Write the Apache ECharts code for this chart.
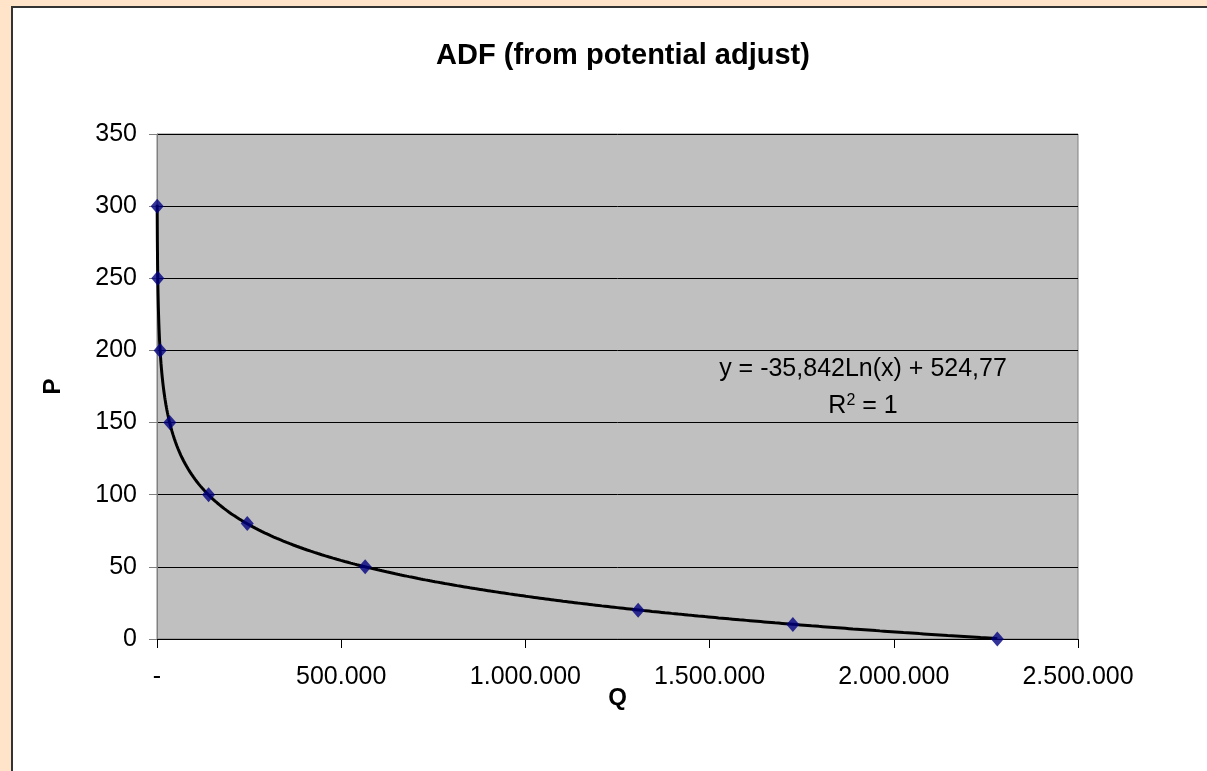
<!DOCTYPE html>
<html>
<head>
<meta charset="utf-8">
<script src="https://cdn.jsdelivr.net/npm/echarts@6/dist/echarts.min.js"></script>
<style>
  html, body { margin: 0; padding: 0; width: 1207px; height: 771px; overflow: hidden; background: #FFE4C9; }
  #box { position: absolute; left: 11px; top: 6px; width: 1300px; height: 900px; background: #fff; border-left: 2px solid #333; border-top: 2px solid #333; }
  #chart { position: absolute; left: 0; top: 0; width: 1207px; height: 771px; }
</style>
</head>
<body>
<div id="box"></div>
<div id="chart"></div>
<script>
// Data
const quantities = [500, 2100, 8600, 34700, 140000, 245000, 565000, 1306000, 1726000, 2281000];
const prices = [300, 250, 200, 150, 100, 80, 50, 20, 10, 0];
const xTicks = [0, 500000, 1000000, 1500000, 2000000, 2500000];
const yTicks = [0, 50, 100, 150, 200, 250, 300, 350];
const titleText = 'ADF (from potential adjust)';
const equationText = 'y = -35,842Ln(x) + 524,77';

// Logarithmic trendline fitted to the data (least squares on ln(Q)), like Excel
const lnQ = quantities.map(q => Math.log(q));
const n = lnQ.length;
const mx = lnQ.reduce((a, b) => a + b, 0) / n;
const my = prices.reduce((a, b) => a + b, 0) / n;
let sxy = 0, sxx = 0;
for (let i = 0; i < n; i++) { sxy += (lnQ[i] - mx) * (prices[i] - my); sxx += (lnQ[i] - mx) * (lnQ[i] - mx); }
const slope = sxy / sxx;
const intercept = my - slope * mx;
const qMin = Math.min(...quantities), qMax = Math.max(...quantities);
const trend = [];
const steps = 400;
for (let i = 0; i <= steps; i++) {
  const q = qMin + (qMax - qMin) * Math.pow(i / steps, 2);
  trend.push([q, slope * Math.log(q) + intercept]);
}

const scatterData = quantities.map((q, i) => [q, prices[i]]);
const fmt = v => v === 0 ? '-' : String(v).replace(/\B(?=(\d{3})+(?!\d))/g, '.');
const FONT = '"Liberation Sans", Arial, sans-serif';

const chart = echarts.init(document.getElementById('chart'), null, { renderer: 'canvas' });
chart.setOption({
  backgroundColor: 'transparent',
  animation: false,
  textStyle: { fontFamily: FONT },
  title: {
    text: titleText,
    left: 618,
    textAlign: 'center',
    top: 36,
    textStyle: { fontFamily: FONT, fontSize: 29, fontWeight: 'bold', color: '#000' }
  },
  grid: {
    left: 157, top: 134, right: 129, bottom: 132,
    show: true, backgroundColor: '#C0C0C0', borderColor: '#808080', borderWidth: 1
  },
  xAxis: {
    type: 'value',
    min: xTicks[0], max: xTicks[xTicks.length - 1], interval: xTicks[1] - xTicks[0],
    name: 'Q', nameLocation: 'middle', nameGap: 47, nameMoveOverlap: false,
    nameTextStyle: { fontFamily: FONT, fontSize: 24, fontWeight: 'bold', color: '#000' },
    axisLine: { show: true, onZero: false, lineStyle: { color: '#000', width: 1 } },
    axisTick: { show: true, inside: false, length: 9, lineStyle: { color: '#000' } },
    axisLabel: { margin: 26, fontSize: 25, color: '#000', fontFamily: FONT, formatter: fmt },
    splitLine: { show: false }
  },
  yAxis: {
    type: 'value',
    min: yTicks[0], max: yTicks[yTicks.length - 1], interval: yTicks[1] - yTicks[0],
    name: 'P', nameLocation: 'middle', nameGap: 92, nameRotate: 90, nameMoveOverlap: false,
    nameTextStyle: { fontFamily: FONT, fontSize: 24, fontWeight: 'bold', color: '#000' },
    axisLine: { show: true, lineStyle: { color: '#808080', width: 1 } },
    axisTick: { show: true, inside: false, length: 8, lineStyle: { color: '#808080' } },
    axisLabel: { margin: 20, fontSize: 25, color: '#000', fontFamily: FONT },
    splitLine: { show: true, lineStyle: { color: '#000', width: 1 } }
  },
  series: [
    {
      name: 'Log. trend',
      type: 'line',
      data: trend,
      showSymbol: false,
      symbol: 'none',
      lineStyle: { color: '#000', width: 3 },
      z: 2
    },
    {
      name: 'ADF',
      type: 'scatter',
      data: scatterData,
      symbol: 'diamond',
      symbolSize: [13, 15],
      itemStyle: { color: '#000080' },
      z: 3
    }
  ],
  graphic: [
    {
      type: 'text', z: 10,
      x: 863, y: 369,
      style: {
        text: equationText, align: 'center', verticalAlign: 'middle',
        font: '25px ' + FONT, fill: '#000'
      }
    },
    {
      type: 'text', z: 10,
      x: 863, y: 406,
      style: {
        text: '{a|R}{s|2}{a| = 1}',
        align: 'center', verticalAlign: 'middle',
        rich: {
          a: { fontSize: 25, fontFamily: FONT, color: '#000' },
          s: { fontSize: 16, fontFamily: FONT, color: '#000', verticalAlign: 'top', padding: [0, 0, 10, 0] }
        }
      }
    }
  ]
});
</script>
</body>
</html>
